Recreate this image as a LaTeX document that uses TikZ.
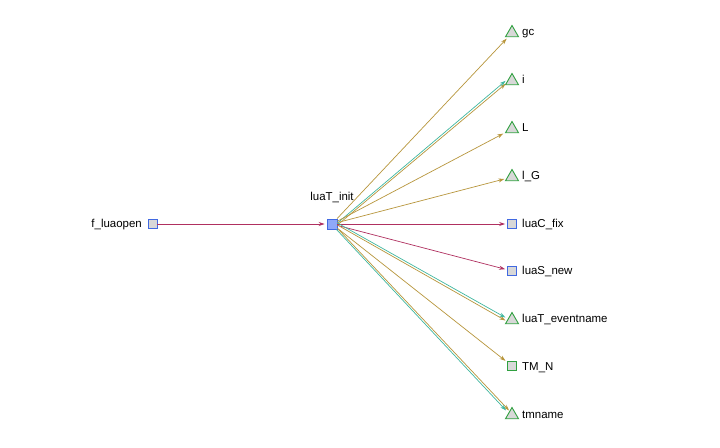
\documentclass[tikz,border=0pt]{standalone}
\usepackage{fontspec}
\setmainfont{Liberation Sans}
\usetikzlibrary{arrows.meta,shapes.geometric}
\definecolor{callred}{RGB}{176,48,96}
\definecolor{callgold}{RGB}{184,150,60}
\definecolor{callteal}{RGB}{64,184,160}
\definecolor{fnblue}{RGB}{65,105,225}
\definecolor{fngreen}{RGB}{48,160,64}
\definecolor{fngrey}{RGB}{216,216,216}
\definecolor{rootfill}{RGB}{143,168,248}
\tikzset{
  fnsq/.style={draw=fnblue, fill=fngrey, line width=0.9bp, minimum size=9bp, inner sep=0pt},
  rootsq/.style={draw=fnblue, fill=rootfill, line width=0.9bp, minimum size=10bp, inner sep=0pt},
  macsq/.style={draw=fngreen, fill=fngrey, line width=0.9bp, minimum size=9bp, inner sep=0pt},
  vartri/.style={regular polygon, regular polygon sides=3, draw=fngreen, fill=fngrey,
                 line width=0.9bp, minimum size=15bp, inner sep=0pt},
  lbl/.style={font=\fontsize{11.5}{13}\selectfont, inner sep=0pt},
  call/.style={line width=0.7bp, -{Stealth[length=6bp,width=4bp]}, shorten >=2bp},
}
\begin{document}
\begin{tikzpicture}[x=1bp, y=-1bp]
\useasboundingbox[fill=white] (0,0) rectangle (720,448);

% caller and the function it calls
\node[fnsq] (open) at (152.5,224) {};
\node[lbl, anchor=base east] (openlbl) at (142,228) {f\_luaopen};
\node[rootsq] (init) at (332,224) {};
\node[lbl, anchor=base] (initlbl) at (332,201) {luaT\_init};

% callees
\node[vartri] (gc)   at (512,33)  {};
\node[vartri] (i)    at (512,81)  {};
\node[vartri] (L)    at (512,129) {};
\node[vartri] (lG)   at (512,177) {};
\node[fnsq]   (fix)  at (512,224) {};
\node[fnsq]   (snew) at (512,271) {};
\node[vartri] (evn)  at (512,320) {};
\node[macsq]  (tmn)  at (512,366) {};
\node[vartri] (tmname) at (512,415) {};

\foreach \n/\t/\y in {gc/gc/32, i/i/80, L/L/128, lG/l\_G/176, fix/luaC\_fix/224,
                      snew/luaS\_new/271, evn/luaT\_eventname/319, tmn/TM\_N/366, tmname/tmname/414}
  \node[lbl, anchor=base west] (\n lbl) at (522,\y+4) {\t};

% calls
\draw[call, callred] (open) -- (init);
\draw[call, callgold] (init) -- (gc);
\draw[call, callgold] ([yshift=-1bp]init.east) -- ([yshift=-1.5bp]i.west);
\draw[call, callteal] ([yshift=1bp]init.east) -- ([yshift=1.5bp]i.west);
\draw[call, callgold] (init) -- (L);
\draw[call, callgold] (init) -- (lG);
\draw[call, callred] (init) -- (fix);
\draw[call, callred] (init) -- (snew);
\draw[call, callgold] ([yshift=-1bp]init.east) -- ([yshift=-1.5bp]evn.west);
\draw[call, callteal] ([yshift=1bp]init.east) -- ([yshift=1.5bp]evn.west);
\draw[call, callgold] (init) -- (tmn);
\draw[call, callgold] ([xshift=1bp]init.south east) -- ([xshift=1.5bp]tmname.north west);
\draw[call, callteal] ([xshift=-1bp]init.south east) -- ([xshift=-1.5bp]tmname.north west);
\end{tikzpicture}
\end{document}
